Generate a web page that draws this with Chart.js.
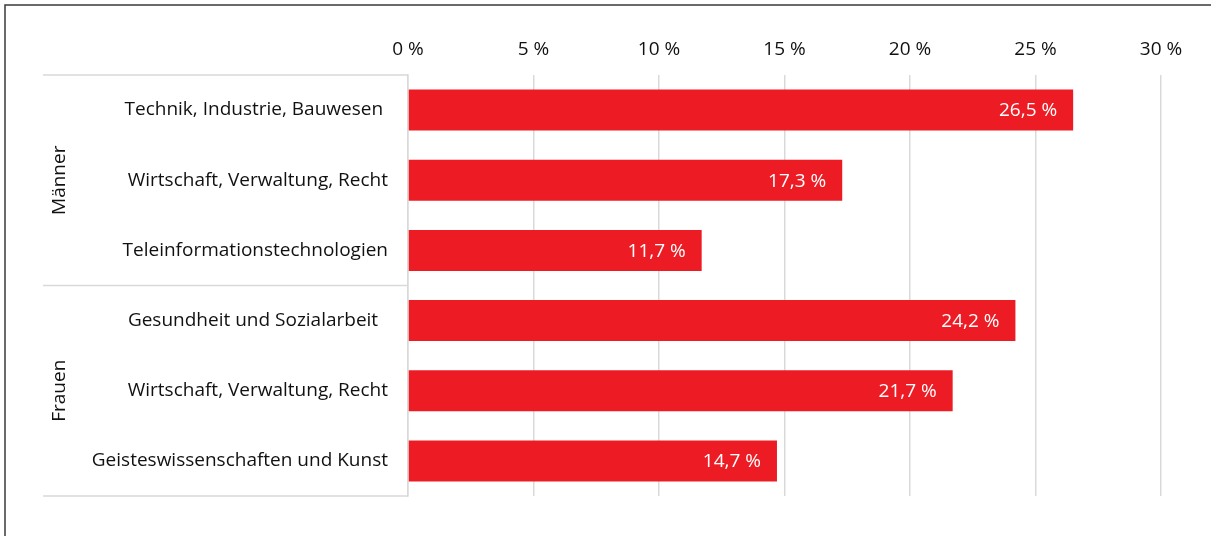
<!DOCTYPE html>
<html lang="de">
<head>
<meta charset="utf-8">
<title>Studienfächer nach Geschlecht</title>
<script src="https://cdn.jsdelivr.net/npm/chart.js@4/dist/chart.umd.min.js"></script>
<style>
  html, body { margin: 0; padding: 0; background: #fff; }
  #wrap { width: 1211px; height: 536px; position: relative; }
</style>
</head>
<body>
<div id="wrap"><canvas id="chart" width="1211" height="536"></canvas></div>
<script>
// Kategorien (von oben nach unten) und Anteile in %
const categories = [
  "Technik, Industrie, Bauwesen ",
  "Wirtschaft, Verwaltung, Recht",
  "Teleinformationstechnologien",
  "Gesundheit und Sozialarbeit  ",
  "Wirtschaft, Verwaltung, Recht",
  "Geisteswissenschaften und Kunst"
];
const shares = [26.5, 17.3, 11.7, 24.2, 21.7, 14.7];

// Gruppen der Kategorien-Achse
const groupNames = ["Männer", "Frauen"];
const groupSizes = [3, 3];

const xTicks = [0, 5, 10, 15, 20, 25, 30];

const FONT = "'Open Sans', 'Noto Sans', sans-serif";
const FS = 19;
const RED = "#ED1C24";
const GRID = "#d9d9d9";

const fmt = v => String(v).replace(".", ",") + " %";

// Rahmen oben/links
const framePlugin = {
  id: "frame",
  beforeDraw(chart) {
    const ctx = chart.ctx;
    ctx.save();
    ctx.strokeStyle = "#3a3a3a";
    ctx.lineWidth = 1.5;
    ctx.beginPath();
    ctx.moveTo(5, chart.height);
    ctx.lineTo(5, 5);
    ctx.lineTo(chart.width, 5);
    ctx.stroke();
    ctx.restore();
  }
};

// Gruppenbeschriftung + Trennlinien links
const groupPlugin = {
  id: "groups",
  afterDraw(chart) {
    const ctx = chart.ctx;
    const y = chart.scales.y;
    const area = chart.chartArea;
    const half = (y.getPixelForValue(1) - y.getPixelForValue(0)) / 2;
    ctx.save();
    ctx.strokeStyle = GRID;
    ctx.lineWidth = 1.5;
    let start = 0;
    const bounds = [area.top];
    groupNames.forEach((name, i) => {
      const end = start + groupSizes[i] - 1;
      const top = y.getPixelForValue(start) - half;
      const bot = y.getPixelForValue(end) + half;
      bounds.push(bot);
      ctx.save();
      ctx.translate(60, (top + bot) / 2);
      ctx.rotate(-Math.PI / 2);
      ctx.fillStyle = "#111";
      ctx.font = FS + "px " + FONT;
      ctx.textAlign = "center";
      ctx.textBaseline = "middle";
      ctx.fillText(name, 0, 0);
      ctx.restore();
      start = end + 1;
    });
    bounds.forEach(b => {
      ctx.beginPath();
      ctx.moveTo(43, b);
      ctx.lineTo(area.left, b);
      ctx.stroke();
    });
    ctx.restore();
  }
};

// Werte in den Balken
const valuePlugin = {
  id: "values",
  afterDatasetsDraw(chart) {
    const ctx = chart.ctx;
    const meta = chart.getDatasetMeta(0);
    ctx.save();
    ctx.fillStyle = "#fff";
    ctx.font = FS + "px " + FONT;
    ctx.textAlign = "right";
    ctx.textBaseline = "middle";
    meta.data.forEach((bar, i) => {
      ctx.fillText(fmt(shares[i]), bar.x - 16, bar.y + 1);
    });
    ctx.restore();
  }
};

new Chart(document.getElementById("chart"), {
  type: "bar",
  data: {
    labels: categories,
    datasets: [{
      data: shares,
      backgroundColor: RED,
      borderWidth: 0,
      categoryPercentage: 1,
      barPercentage: 0.585
    }]
  },
  options: {
    indexAxis: "y",
    responsive: false,
    animation: false,
    layout: { padding: { left: 0, right: 50, top: 0, bottom: 40 } },
    plugins: {
      legend: { display: false },
      tooltip: { enabled: false }
    },
    scales: {
      x: {
        position: "top",
        min: 0,
        max: 30,
        afterBuildTicks: s => { s.ticks = xTicks.map(v => ({ value: v })); },
        afterFit: s => { s.height = 75; },
        ticks: {
          padding: 14,
          color: "#111",
          font: { family: FONT, size: FS },
          callback: v => v + " %"
        },
        grid: { color: GRID, lineWidth: 1.5, drawTicks: false },
        border: { display: false }
      },
      y: {
        afterFit: s => { s.width = 408; },
        ticks: {
          padding: 20,
          color: "#111",
          font: { family: FONT, size: FS }
        },
        grid: { display: false, drawTicks: false },
        border: { display: true, color: GRID, width: 1.5 }
      }
    }
  },
  plugins: [framePlugin, groupPlugin, valuePlugin]
});
</script>
</body>
</html>
